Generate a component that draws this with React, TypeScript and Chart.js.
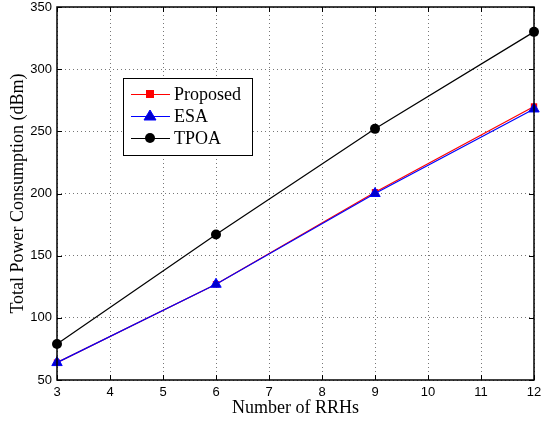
import React, { useEffect, useRef } from "react";
import { Chart, registerables } from "chart.js";

Chart.register(...registerables);

const xValues = [3, 6, 9, 12];
const proposed = [64, 127, 201, 270];
const esa = [64, 127, 200, 268];
const tpoa = [79, 167, 252, 330];
const seriesNames = ["Proposed", "ESA", "TPOA"];
const xTitle = "Number of RRHs";
const yTitle = "Total Power Consumption (dBm)";

const boxPlugin = {
  id: "matlabBox",
  afterDraw(chart: any) {
    const { ctx, chartArea: a, scales } = chart;
    ctx.save();
    ctx.strokeStyle = "#000";
    ctx.lineWidth = 1.5;
    ctx.strokeRect(a.left, a.top, a.right - a.left, a.bottom - a.top);
    ctx.lineWidth = 1;
    const tl = 5;
    const xs = scales.x;
    for (let v = 3; v <= 12; v++) {
      const px = Math.round(xs.getPixelForValue(v)) + 0.5;
      ctx.beginPath();
      ctx.moveTo(px, a.bottom);
      ctx.lineTo(px, a.bottom - tl);
      ctx.moveTo(px, a.top);
      ctx.lineTo(px, a.top + tl);
      ctx.stroke();
    }
    const ys = scales.y;
    for (let v = 50; v <= 350; v += 50) {
      const py = Math.round(ys.getPixelForValue(v)) + 0.5;
      ctx.beginPath();
      ctx.moveTo(a.left, py);
      ctx.lineTo(a.left + tl, py);
      ctx.moveTo(a.right, py);
      ctx.lineTo(a.right - tl, py);
      ctx.stroke();
    }
    // legend
    const lx = 123, ly = 78, lw = 129, lh = 77;
    ctx.fillStyle = "#fff";
    ctx.fillRect(lx, ly, lw, lh);
    ctx.strokeStyle = "#000";
    ctx.lineWidth = 1;
    ctx.strokeRect(lx + 0.5, ly + 0.5, lw, lh);
    const rows = [ly + 16, ly + 38, ly + 60];
    const colors = ["#ff0000", "#0000ff", "#000000"];
    const shapes = ["rect", "triangle", "circle"];
    ctx.font = "18px 'Liberation Serif', 'Times New Roman', serif";
    ctx.textBaseline = "middle";
    rows.forEach((ry, i) => {
      ctx.strokeStyle = colors[i];
      ctx.lineWidth = 1;
      ctx.beginPath();
      ctx.moveTo(lx + 8, ry + 0.5);
      ctx.lineTo(lx + 47, ry + 0.5);
      ctx.stroke();
      const mx = lx + 27;
      ctx.fillStyle = colors[i];
      if (shapes[i] === "rect") {
        ctx.fillRect(mx - 4, ry - 4, 8, 8);
      } else if (shapes[i] === "triangle") {
        ctx.fillStyle = "#0000cc";
        ctx.beginPath();
        ctx.moveTo(mx, ry - 6);
        ctx.lineTo(mx + 6, ry + 4);
        ctx.lineTo(mx - 6, ry + 4);
        ctx.closePath();
        ctx.fill();
        ctx.strokeStyle = "#0000ff";
        ctx.stroke();
      } else {
        ctx.beginPath();
        ctx.arc(mx, ry, 5, 0, Math.PI * 2);
        ctx.fill();
      }
      ctx.fillStyle = "#000";
      ctx.textAlign = "left";
      ctx.fillText(seriesNames[i], lx + 51, ry + 1);
    });
    ctx.restore();
  },
};

export default function App() {
  const ref = useRef<HTMLCanvasElement | null>(null);
  useEffect(() => {
    document.body.style.margin = "0";
    const tickFont = { family: "'Liberation Sans', Arial, sans-serif", size: 13 };
    const titleFont = { family: "'Liberation Serif', 'Times New Roman', serif", size: 18 };
    const chart = new Chart(ref.current!, {
      type: "line",
      data: {
        datasets: [
          {
            label: seriesNames[0],
            data: xValues.map((x, i) => ({ x, y: proposed[i] })),
            borderColor: "#ff0000",
            backgroundColor: "#ff0000",
            pointStyle: "rect",
            pointRadius: 4.5,
            borderWidth: 1.2,
            pointBorderWidth: 0,
            clip: false,
            order: 2,
          },
          {
            label: seriesNames[1],
            data: xValues.map((x, i) => ({ x, y: esa[i] })),
            borderColor: "#0000ff",
            backgroundColor: "#0000cc",
            pointBorderColor: "#0000ff",
            pointStyle: "triangle",
            pointRadius: 6,
            borderWidth: 1.2,
            pointBorderWidth: 1,
            clip: false,
            order: 1,
          },
          {
            label: seriesNames[2],
            data: xValues.map((x, i) => ({ x, y: tpoa[i] })),
            borderColor: "#000000",
            backgroundColor: "#000000",
            pointStyle: "circle",
            pointRadius: 5,
            borderWidth: 1.2,
            pointBorderWidth: 0,
            clip: false,
            order: 0,
          },
        ],
      },
      options: {
        animation: false,
        responsive: false,
        devicePixelRatio: 1,
        layout: { padding: { left: 0, top: 6, right: 6, bottom: 0 } },
        plugins: { legend: { display: false }, tooltip: { enabled: false } },
        scales: {
          x: {
            type: "linear",
            min: 3,
            max: 12,
            ticks: { stepSize: 1, color: "#000", font: tickFont, padding: 5 },
            grid: { color: "#777", drawTicks: false, lineWidth: 1 },
            border: { display: false, dash: [1, 3] },
            title: { display: true, text: xTitle, color: "#000", font: titleFont, padding: { top: 0, bottom: 5 } },
            afterFit: (s: any) => {
              s.height = 44;
              s.paddingLeft = 0;
              s.paddingRight = 0;
            },
          },
          y: {
            min: 50,
            max: 350,
            ticks: { stepSize: 50, color: "#000", font: tickFont, padding: 5 },
            grid: { color: "#777", drawTicks: false, lineWidth: 1 },
            border: { display: false, dash: [1, 3] },
            title: { display: true, text: yTitle, color: "#000", font: titleFont, padding: { top: 7, bottom: 0 } },
            afterFit: (s: any) => {
              s.width = 57;
              s.paddingTop = 0;
              s.paddingBottom = 0;
            },
          },
        },
      },
      plugins: [boxPlugin],
    });
    return () => chart.destroy();
  }, []);
  return (
    <div style={{ width: 541, height: 424 }}>
      <canvas ref={ref} width={541} height={424} style={{ display: "block" }} />
    </div>
  );
}
